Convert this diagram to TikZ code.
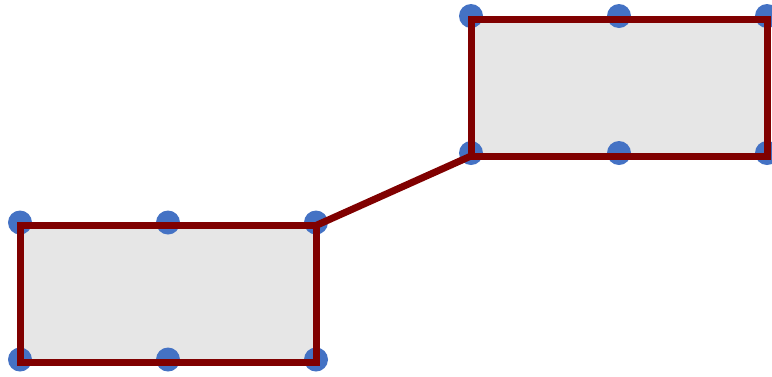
\documentclass[tikz,border=0pt]{standalone}
\definecolor{edgered}{HTML}{800000}
\definecolor{boxgray}{HTML}{E6E6E6}
\definecolor{dotblue}{HTML}{4472C4}
\tikzset{
  box/.style={rectangle, minimum width=296pt, minimum height=137pt, inner sep=0pt, outer sep=0pt},
  boxfill/.style={box, fill=boxgray},
  boxedge/.style={box, draw=edgered, line width=7pt},
  handle/.style={circle, fill=dotblue, minimum size=24pt, inner sep=0pt},
  link/.style={draw=edgered, line width=7pt}
}
\begin{document}
\begin{tikzpicture}[x=1pt,y=-1pt]
\useasboundingbox (0,0) rectangle (772,376);
% fills
\node[boxfill] (A) at (168,294) {};
\node[boxfill] (B) at (619,87.5) {};
% handles
\foreach \n in {A,B}{
  \foreach \a in {north west,north,north east,south west,south,south east}{
    \node[handle, yshift=3pt] (\n-\a) at (\n.\a) {};
  }
}
% borders
\node[boxedge] (Aedge) at (A) {};
\node[boxedge] (Bedge) at (B) {};
% connector
\draw[link] (Aedge.north east) -- (Bedge.south west);
\end{tikzpicture}
\end{document}
